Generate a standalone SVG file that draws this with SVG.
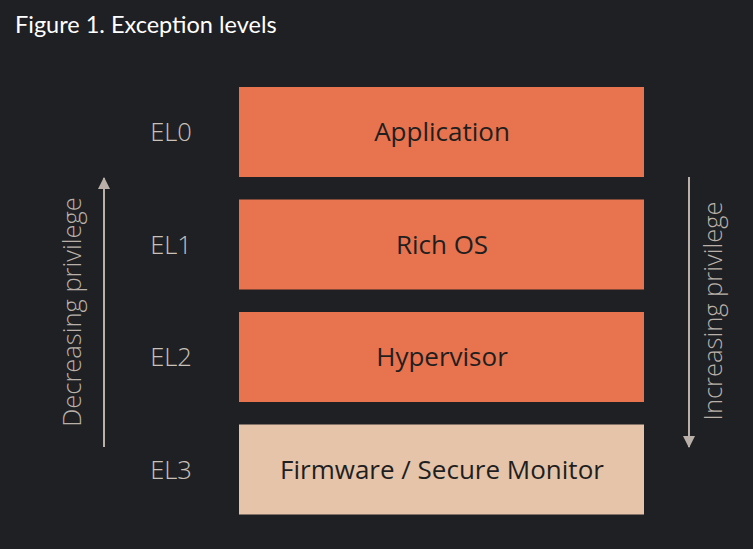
<svg xmlns="http://www.w3.org/2000/svg" width="753" height="549" viewBox="0 0 753 549">
<style>
.bg{fill:#1f2024}
.title{font-family:Lato,"Open Sans",sans-serif;font-size:23.5px;fill:#ffffff}
.box{fill:#e8734f}
.box3{fill:#e5c4aa}
.lbl{font-family:"Open Sans","Noto Sans",sans-serif;font-size:26px;font-weight:500;fill:#1f1f1f;text-anchor:middle}
.el{font-family:"Open Sans","Noto Sans",sans-serif;font-size:25.5px;font-weight:300;fill:#c9c1b9;text-anchor:middle}
.side{font-family:"Open Sans","Noto Sans",sans-serif;font-size:25.5px;font-weight:300;fill:#b9b1a9;text-anchor:middle}
.arr{stroke:#b9b1a9;stroke-width:2;fill:none}
</style>
<defs>
<marker id="ah" viewBox="0 0 12 12" refX="11" refY="6" markerWidth="12" markerHeight="12" markerUnits="userSpaceOnUse" orient="auto">
<path d="M0,0 L12,6 L0,12 Z" fill="#b9b1a9"/>
</marker>
</defs>
<rect class="bg" x="0" y="0" width="753" height="549"/>
<text class="title" x="15" y="33">Figure 1. Exception levels</text>
<g id="el0">
<rect class="box" x="239" y="87" width="405" height="90"/>
<text class="lbl" x="442" y="141">Application</text>
<text class="el" x="171" y="141">EL0</text>
</g>
<g id="el1">
<rect class="box" x="239" y="199.5" width="405" height="90"/>
<text class="lbl" x="442" y="253.5">Rich OS</text>
<text class="el" x="171" y="253.5">EL1</text>
</g>
<g id="el2">
<rect class="box" x="239" y="312" width="405" height="90"/>
<text class="lbl" x="442" y="366">Hypervisor</text>
<text class="el" x="171" y="366">EL2</text>
</g>
<g id="el3">
<rect class="box3" x="239" y="424.5" width="405" height="90"/>
<text class="lbl" x="442" y="478.5">Firmware / Secure Monitor</text>
<text class="el" x="171" y="478.5">EL3</text>
</g>
<g id="connectors">
<line class="arr" x1="104" y1="447" x2="104" y2="178" marker-end="url(#ah)"/>
<line class="arr" x1="689" y1="177" x2="689" y2="447" marker-end="url(#ah)"/>
</g>
<g id="side-labels">
<text class="side" transform="translate(81,312) rotate(-90)">Decreasing privilege</text>
<text class="side" transform="translate(722,311) rotate(-90)">Increasing privilege</text>
</g>
</svg>
